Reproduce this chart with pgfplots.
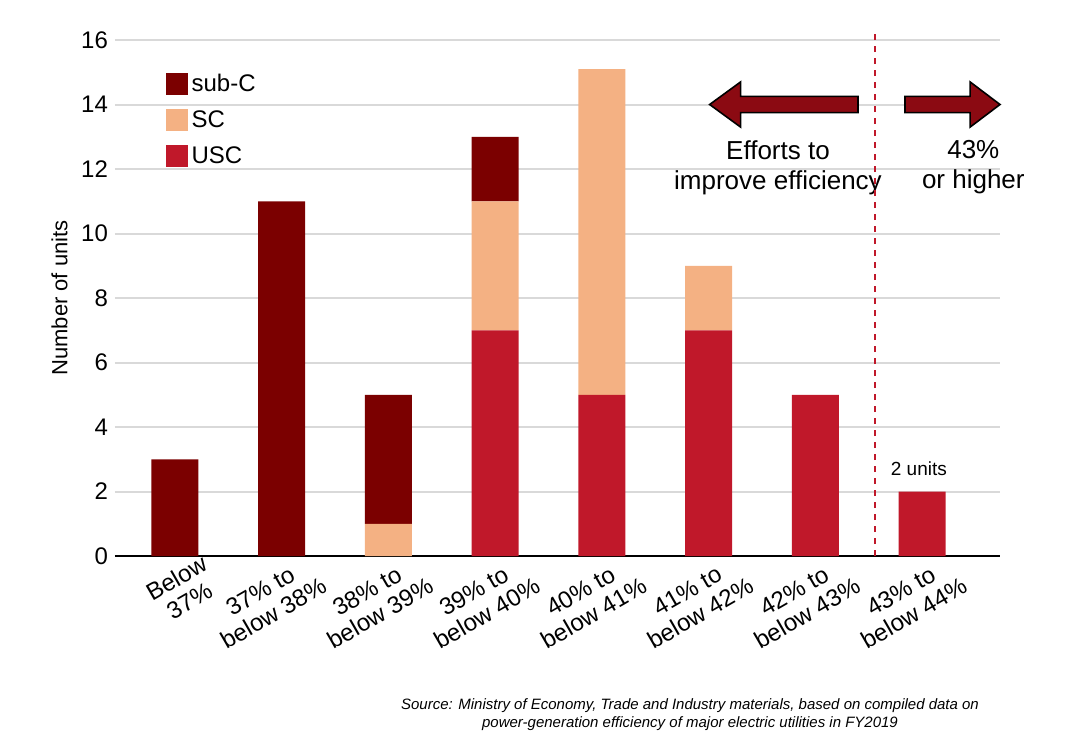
\documentclass[border=0pt]{standalone}
\usepackage{pgfplots}
\pgfplotsset{compat=1.18}
\usepackage{fontspec}
\setmainfont{Liberation Sans}
\definecolor{subc}{HTML}{7B0000}
\definecolor{sc}{HTML}{F4B183}
\definecolor{usc}{HTML}{C0182A}
\definecolor{arr}{HTML}{8B0A12}
\begin{document}
\begin{tikzpicture}
\begin{axis}[
  scale only axis, width=442.5pt, height=258pt,
  ybar stacked, bar width=23.5pt,
  xmin=-0.56, xmax=7.73, ymin=0, ymax=16,
  ytick={0,2,...,16},
  xtick={0,...,7},
  xticklabels={{Below\\37\%},{37\% to\\below 38\%},{38\% to\\below 39\%},{39\% to\\below 40\%},{40\% to\\below 41\%},{41\% to\\below 42\%},{42\% to\\below 43\%},{43\% to\\below 44\%}},
  xticklabel style={rotate=30, anchor=north east, align=center, font=\fontsize{12}{13}\selectfont, xshift=15pt, yshift=-2pt},
  yticklabel style={font=\fontsize{12}{13}\selectfont},
  /pgf/number format/assume math mode=true,
  ylabel={Number of units}, ylabel style={font=\fontsize{11}{12}\selectfont},
  axis x line*=bottom, axis y line*=left,
  y axis line style={draw=none},
  ymajorgrids, grid style={gray!30, line width=1pt},
  major tick length=0pt,
  x axis line style={line width=1pt, -},
  legend style={draw=none, fill=none, at={(rel axis cs:0.05,0.95)}, anchor=north west, font=\fontsize{12}{14}\selectfont, row sep=4pt},
  legend image code/.code={\fill[#1] (0cm,-5.5pt) rectangle (11pt,5.5pt);},
  legend cell align=left,
  reverse legend,
  clip=false,
]
\addplot[fill=usc, draw=none] coordinates {(0,0) (1,0) (2,0) (3,7) (4,5) (5,7) (6,5) (7,2)};
\addplot[fill=sc, draw=none] coordinates {(0,0) (1,0) (2,1) (3,4) (4,10.1) (5,2) (6,0) (7,0)};
\addplot[fill=subc, draw=none] coordinates {(0,3) (1,11) (2,4) (3,2) (4,0) (5,0) (6,0) (7,0)};
\legend{USC,SC,sub-C}
\draw[usc, dashed, thick] (axis cs:6.56,0) -- (axis cs:6.56,16.3);
\draw[fill=arr, draw=black, line width=0.8pt] (axis cs:6.4,13.75) -- (axis cs:5.3,13.75) -- (axis cs:5.3,13.3) -- (axis cs:5.01,14.0) -- (axis cs:5.3,14.7) -- (axis cs:5.3,14.25) -- (axis cs:6.4,14.25) -- cycle;
\draw[fill=arr, draw=black, line width=0.8pt] (axis cs:6.84,13.75) -- (axis cs:7.45,13.75) -- (axis cs:7.45,13.3) -- (axis cs:7.73,14.0) -- (axis cs:7.45,14.7) -- (axis cs:7.45,14.25) -- (axis cs:6.84,14.25) -- cycle;
\node[align=center, font=\fontsize{13}{15}\selectfont] at (axis cs:5.65,12.05) {Efforts to\\improve efficiency};
\node[align=center, font=\fontsize{13}{15}\selectfont] at (axis cs:7.48,12.05) {43\%\\or higher};
\node[font=\fontsize{9.5}{10}\selectfont] at (axis cs:6.97,2.7) {2 units};
\end{axis}
\path (current axis.south west) ++(-57.5pt,-92.5pt) coordinate (bl);
\node[align=center, font=\itshape\fontsize{7.5}{9}\selectfont, anchor=center] at ([xshift=345pt,yshift=13pt]bl) {Source: Ministry of Economy, Trade and Industry materials, based on compiled data on\\power-generation efficiency of major electric utilities in FY2019};
\useasboundingbox (bl) rectangle ++(535pt,370.5pt);
\end{tikzpicture}
\end{document}
